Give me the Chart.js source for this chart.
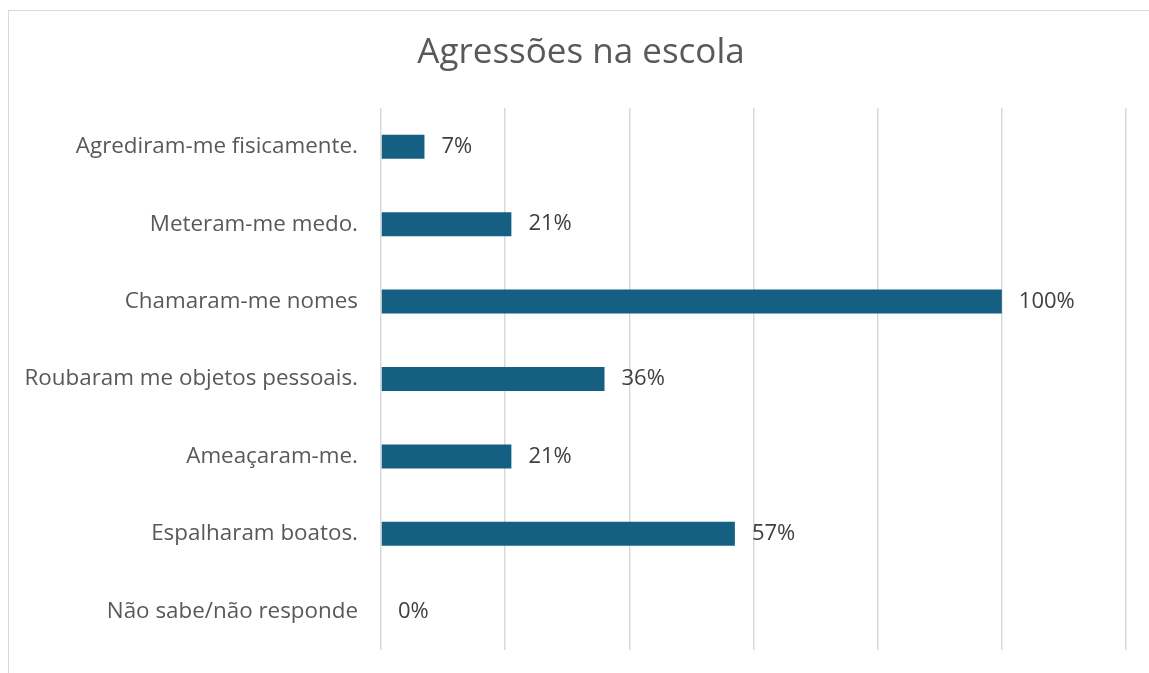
<!DOCTYPE html>
<html lang="pt">
<head>
<meta charset="utf-8">
<title>Agressões na escola</title>
<script src="https://cdn.jsdelivr.net/npm/chart.js@4.4.1/dist/chart.umd.min.js"></script>
<style>
    html, body {
        margin: 0;
        padding: 0;
        background: #ffffff;
        overflow: hidden;
    }
    #moldura {
        position: absolute;
        left: 8px;
        top: 10px;
        width: 1160px;
        height: 700px;
        border: 1px solid #d9d9d9;
    }
    #grafica {
        position: absolute;
        left: 0;
        top: 0;
    }
</style>
</head>
<body>
<div id="moldura"></div>
<canvas id="grafica" width="1149" height="673"></canvas>

<script>
// =========================
// DADOS
// =========================
const categorias = [
    "Agrediram-me fisicamente.",
    "Meteram-me medo.",
    "Chamaram-me nomes",
    "Roubaram me objetos pessoais.",
    "Ameaçaram-me.",
    "Espalharam boatos.",
    "Não sabe/não responde"
];

const percentagens = [7, 21, 100, 36, 21, 57, 0];

const titulo = "Agressões na escola";

const FONTE = "'Open Sans', 'Liberation Sans', sans-serif";

// título centrado na moldura (não na área do gráfico)
const tituloMoldura = {
    id: "tituloMoldura",
    afterDraw(chart) {
        const ctx = chart.ctx;
        ctx.save();
        ctx.font = "35px " + FONTE;
        ctx.fillStyle = "#595959";
        ctx.textAlign = "center";
        ctx.textBaseline = "middle";
        ctx.fillText(titulo, 581, 53);
        ctx.restore();
    }
};

// etiquetas de valor à direita de cada barra
const etiquetasValor = {
    id: "etiquetasValor",
    afterDatasetsDraw(chart) {
        const ctx = chart.ctx;
        const meta = chart.getDatasetMeta(0);
        ctx.save();
        ctx.font = "22px " + FONTE;
        ctx.fillStyle = "#404040";
        ctx.textAlign = "left";
        ctx.textBaseline = "middle";
        meta.data.forEach((barra, i) => {
            ctx.fillText(percentagens[i] + "%", barra.x + 17, barra.y);
        });
        ctx.restore();
    }
};

// =========================
// GRÁFICA
// =========================
const ctx = document.getElementById("grafica").getContext("2d");

const chart = new Chart(ctx, {
    type: "bar",
    data: {
        labels: categorias,
        datasets: [{
            data: percentagens,
            backgroundColor: "#156082",
            borderWidth: 0,
            barPercentage: 0.31,
            categoryPercentage: 1
        }]
    },
    options: {
        indexAxis: "y",
        responsive: false,
        animation: false,
        layout: {
            padding: { left: 12, right: 23, top: 108, bottom: 23 }
        },
        plugins: {
            legend: { display: false },
            tooltip: { enabled: false },
            title: { display: false }
        },
        scales: {
            x: {
                min: 0,
                max: 120,
                ticks: { display: false, stepSize: 20 },
                grid: {
                    color: "#d9d9d9",
                    lineWidth: 1.5,
                    drawTicks: false
                },
                border: { display: false },
                afterFit(scale) {
                    scale.height = 0;
                }
            },
            y: {
                // marcas invisíveis só para afastar o texto do eixo
                grid: {
                    display: true,
                    drawOnChartArea: false,
                    drawTicks: true,
                    tickLength: 23,
                    color: "rgba(0,0,0,0)"
                },
                border: { display: false },
                ticks: {
                    color: "#595959",
                    padding: 0,
                    font: { family: FONTE, size: 22.4 }
                },
                afterFit(scale) {
                    scale.width = 369;
                }
            }
        }
    },
    plugins: [etiquetasValor, tituloMoldura]
});
</script>
</body>
</html>
